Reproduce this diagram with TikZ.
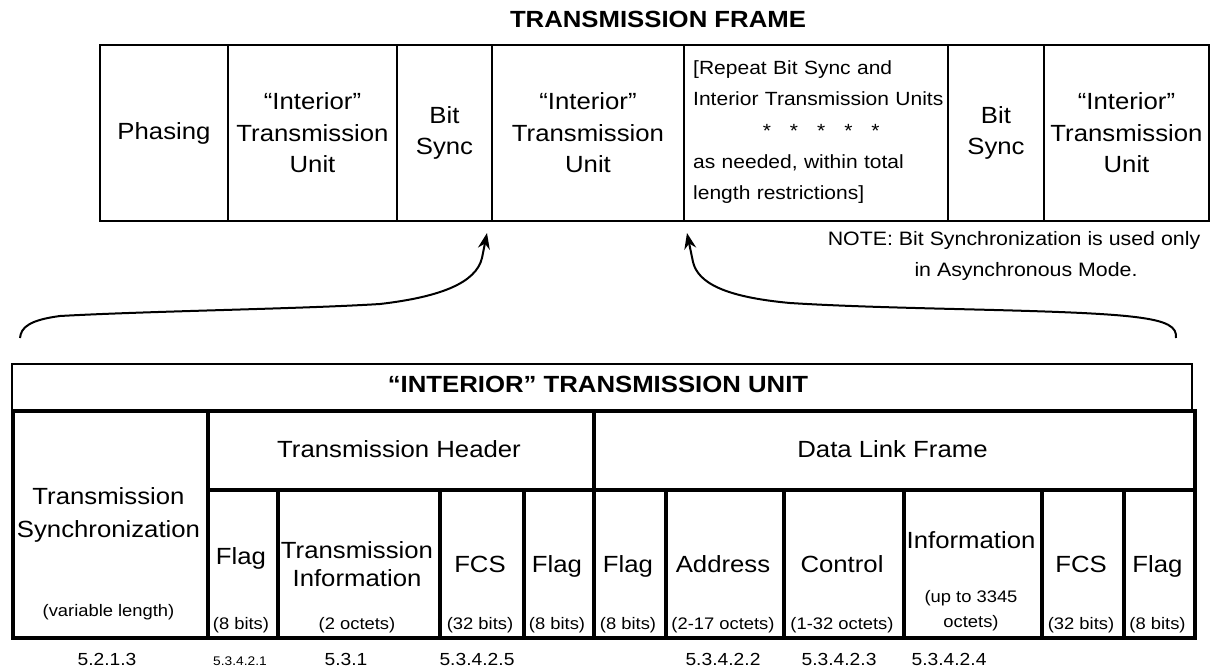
\documentclass[tikz,border=0pt]{standalone}
\usepackage{fontspec}
\setmainfont[FakeStretch=1.1]{Liberation Sans}
\usetikzlibrary{arrows.meta}
\begin{document}
\begin{tikzpicture}[x=1pt,y=-1pt,
  tcell/.style={draw, line width=2pt, inner sep=0pt, anchor=north west, minimum height=176pt,
    font=\fontsize{23.4}{31.5}\selectfont, align=center},
  bcell/.style={draw, line width=4pt, inner sep=0pt, anchor=north west},
  lblbig/.style={font=\fontsize{23.4}{31.5}\selectfont, align=center, inner sep=0pt},
  lblsmall/.style={font=\fontsize{16.7}{25}\selectfont, align=center, inner sep=0pt},
  secno/.style={font=\fontsize{17.5}{20}\selectfont, inner sep=0pt, anchor=base},
  ttl/.style={font=\bfseries\fontsize{23.4}{28}\selectfont, inner sep=0pt, anchor=base},
  curve/.style={line width=2pt, -{Stealth[length=16pt, width=12pt]}}]
\path[fill=white] (0,0) rectangle (1210,668);
\useasboundingbox (0,0) rectangle (1210,668);

% ---- top frame
\node[ttl] (title) at (658,28) {TRANSMISSION FRAME};
\node[tcell, minimum width=128pt] (phasing) at (99,44) {Phasing};
\node[tcell, minimum width=169pt] (itu1) at (227,44) {“Interior”\\Transmission\\Unit};
\node[tcell, minimum width=95pt] (bs1) at (396,44) {Bit\\Sync};
\node[tcell, minimum width=192pt] (itu2) at (491,44) {“Interior”\\Transmission\\Unit};
\node[tcell, minimum width=264pt] (repeat) at (683,44) {};
\node[tcell, minimum width=96pt] (bs2) at (947,44) {Bit\\Sync};
\node[tcell, minimum width=165pt] (itu3) at (1043,44) {“Interior”\\Transmission\\Unit};
\node[font=\fontsize{19.1}{31.25}\selectfont, align=left, text width=256pt, inner sep=0pt, anchor=west] (reptxt) at (693,132.3)
  {[Repeat Bit Sync and\\Interior Transmission Units\\\makebox[256pt]{*\hspace{19pt}*\hspace{19pt}*\hspace{19pt}*\hspace{19pt}*}\\as needed, within total\\length restrictions]};
\node[font=\fontsize{19.4}{31}\selectfont, align=center, inner sep=0pt] (note) at (1014,256.4)
  {NOTE: Bit Synchronization is used only\\\hspace*{24pt}in Asynchronous Mode.};

% ---- bracket arrows
\coordinate (lstart) at (20,338);
\coordinate (ltip) at (487,233);
\coordinate (rstart) at (1176,338);
\coordinate (rtip) at (687,233);
\draw[curve] (lstart) .. controls (21,327) and (30,320) .. (60,316)
  .. controls (150,311) and (300,309) .. (380,304)
  .. controls (440,297) and (476,283) .. (482,258) -- (ltip);
\draw[curve] (rstart) .. controls (1177,327) and (1168,321) .. (1135,317)
  .. controls (1070,309) and (900,310) .. (790,303)
  .. controls (725,297) and (698,283) .. (693,262) -- (rtip);

% ---- interior transmission unit table
\node[draw, line width=2pt, inner sep=0pt, anchor=north west, minimum width=1180pt, minimum height=46pt] (itubox) at (11,363) {};
\node[ttl] (ititle) at (598,392) {“INTERIOR” TRANSMISSION UNIT};
\node[bcell, minimum width=195pt, minimum height=227pt] (tsync) at (11,409) {};
\node[bcell, minimum width=386pt, minimum height=79pt] (thdr) at (206,409) {};
\node[bcell, minimum width=601pt, minimum height=79pt] (dlf) at (592,409) {};
\node[bcell, minimum width=70pt, minimum height=148pt] (flag1) at (206,488) {};
\node[bcell, minimum width=162pt, minimum height=148pt] (tinfo) at (276,488) {};
\node[bcell, minimum width=84pt, minimum height=148pt] (fcs1) at (438,488) {};
\node[bcell, minimum width=70pt, minimum height=148pt] (flag2) at (522,488) {};
\node[bcell, minimum width=72pt, minimum height=148pt] (flag3) at (592,488) {};
\node[bcell, minimum width=118pt, minimum height=148pt] (addr) at (664,488) {};
\node[bcell, minimum width=120pt, minimum height=148pt] (ctrl) at (782,488) {};
\node[bcell, minimum width=138pt, minimum height=148pt] (info) at (902,488) {};
\node[bcell, minimum width=82pt, minimum height=148pt] (fcs2) at (1040,488) {};
\node[bcell, minimum width=71pt, minimum height=148pt] (flag4) at (1122,488) {};

% labels
\node[lblbig, font=\fontsize{23.4}{33}\selectfont] (tsyncl) at (108.5,515) {Transmission\\Synchronization};
\node[lblsmall, anchor=base] (tsyncs) at (108.5,616) {(variable length)};
\node[lblbig, anchor=base] (thdrl) at (399,457) {Transmission Header};
\node[lblbig, anchor=base] (dlfl) at (892.5,457) {Data Link Frame};

\node[lblbig, anchor=base] (flag1l) at (241,564) {Flag};
\node[lblsmall, anchor=base] (flag1s) at (241,629) {(8 bits)};
\node[lblbig, font=\fontsize{23.4}{28}\selectfont] (tinfol) at (357,564.5) {Transmission\\Information};
\node[lblsmall, anchor=base] (tinfos) at (357,629) {(2 octets)};
\node[lblbig, anchor=base] (fcs1l) at (480,572.5) {FCS};
\node[lblsmall, anchor=base] (fcs1s) at (480,629) {(32 bits)};
\node[lblbig, anchor=base] (flag2l) at (557,572.5) {Flag};
\node[lblsmall, anchor=base] (flag2s) at (557,629) {(8 bits)};
\node[lblbig, anchor=base] (flag3l) at (628,572.5) {Flag};
\node[lblsmall, anchor=base] (flag3s) at (628,629) {(8 bits)};
\node[lblbig, anchor=base] (addrl) at (723,572.5) {Address};
\node[lblsmall, anchor=base] (addrs) at (723,629) {(2-17 octets)};
\node[lblbig, anchor=base] (ctrll) at (842,572.5) {Control};
\node[lblsmall, anchor=base] (ctrls) at (842,629) {(1-32 octets)};
\node[lblbig, anchor=base] (infol) at (971,548.4) {Information};
\node[lblsmall] (infos) at (971,610.2) {(up to 3345\\octets)};
\node[lblbig, anchor=base] (fcs2l) at (1081,572.5) {FCS};
\node[lblsmall, anchor=base] (fcs2s) at (1081,629) {(32 bits)};
\node[lblbig, anchor=base] (flag4l) at (1157.5,572.5) {Flag};
\node[lblsmall, anchor=base] (flag4s) at (1157.5,629) {(8 bits)};

% section numbers
\node[secno] (s1) at (107,665) {5.2.1.3};
\node[secno, font=\fontsize{12.5}{14}\selectfont] (s2) at (240,665) {5.3.4.2.1};
\node[secno] (s3) at (346,665) {5.3.1};
\node[secno] (s4) at (477,665) {5.3.4.2.5};
\node[secno] (s5) at (723,665) {5.3.4.2.2};
\node[secno] (s6) at (839,665) {5.3.4.2.3};
\node[secno] (s7) at (949,665) {5.3.4.2.4};
\end{tikzpicture}
\end{document}
